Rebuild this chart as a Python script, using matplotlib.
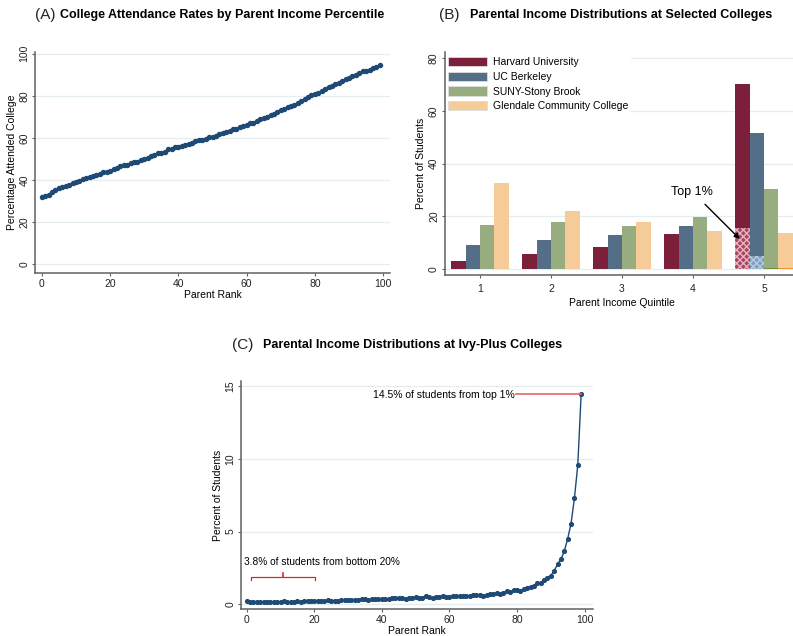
import matplotlib
matplotlib.use("Agg")
import matplotlib.pyplot as plt
from matplotlib.patches import Patch
import numpy as np

plt.rcParams['font.family'] = ['Liberation Sans', 'DejaVu Sans']

# ==== DATA ====
# (A) college attendance rate by parent rank 0..99
attend_rank = list(range(100))
attend_rate = [
    32.1, 32.3, 33.0, 34.4, 35.3, 36.0, 36.5, 37.3, 37.7, 38.4,
    39.2, 39.6, 40.3, 40.8, 41.4, 41.8, 42.4, 42.6, 43.6, 43.9,
    44.1, 45.0, 45.6, 46.4, 46.9, 47.3, 48.1, 48.6, 48.4, 49.4,
    49.8, 50.4, 51.2, 51.7, 52.6, 52.8, 53.4, 54.5, 54.6, 55.5,
    55.9, 56.0, 56.4, 57.3, 57.8, 58.4, 58.8, 58.9, 59.6, 60.2,
    60.5, 60.9, 61.7, 62.3, 62.9, 63.3, 64.0, 64.4, 65.1, 65.8,
    66.3, 66.9, 67.3, 68.1, 68.9, 69.4, 70.1, 70.8, 71.5, 72.4,
    73.1, 73.8, 74.5, 75.1, 75.8, 76.6, 77.4, 78.3, 79.4, 80.2,
    80.8, 81.4, 82.1, 83.1, 84.0, 84.7, 85.6, 86.3, 87.0, 88.0,
    88.6, 89.3, 90.0, 90.7, 91.6, 92.0, 92.4, 93.1, 93.8, 94.5,
]

# (B) share of students by parent income quintile
quintiles = [1, 2, 3, 4, 5]
colleges = ["Harvard University", "UC Berkeley", "SUNY-Stony Brook", "Glendale Community College"]
harvard = [3.2, 5.6, 8.3, 13.4, 70.3]
berkeley = [9.0, 10.9, 13.0, 16.4, 51.5]
stony_brook = [16.6, 17.7, 16.2, 19.9, 30.2]
glendale = [32.6, 22.1, 17.8, 14.5, 13.8]
top1 = [15.5, 5.0, 0.6, 0.6]  # top 1% share within quintile 5

# (C) Ivy-Plus share of students by parent rank 0..99
ivy_rank = list(range(100))
ivy_share = [
    0.25, 0.12, 0.15, 0.14, 0.16, 0.15, 0.14, 0.15, 0.16, 0.14,
    0.17, 0.19, 0.16, 0.18, 0.17, 0.19, 0.17, 0.20, 0.21, 0.20,
    0.23, 0.22, 0.20, 0.22, 0.27, 0.24, 0.20, 0.25, 0.28, 0.32,
    0.28, 0.30, 0.27, 0.30, 0.35, 0.33, 0.31, 0.34, 0.33, 0.35,
    0.36, 0.37, 0.38, 0.40, 0.42, 0.44, 0.41, 0.38, 0.40, 0.44,
    0.47, 0.44, 0.45, 0.58, 0.48, 0.44, 0.47, 0.50, 0.55, 0.50,
    0.53, 0.55, 0.56, 0.55, 0.57, 0.58, 0.57, 0.66, 0.60, 0.62,
    0.58, 0.64, 0.68, 0.72, 0.75, 0.70, 0.80, 0.88, 0.82, 0.97,
    0.99, 0.93, 1.05, 1.15, 1.20, 1.25, 1.45, 1.45, 1.70, 1.82,
    1.97, 2.30, 2.75, 3.10, 3.65, 4.50, 5.55, 7.30, 9.60, 14.50,
]

# ==== STYLE ====
W, H = 793, 636
navy = '#1f4a75'
grid_c = '#e4eef0'
spine_c = '#606060'
bar_colors = ['#7c1f3b', '#536e86', '#97ad80', '#f5cb98']
tick_fs = 7.5
label_fs = 7.5


def px_axes(fig, left, top, right, bottom):
    return fig.add_axes([left / W, 1 - bottom / H, (right - left) / W, (bottom - top) / H])


def stata_style(ax, xpad=1.5):
    for s in ['top', 'right']:
        ax.spines[s].set_visible(False)
    for s in ['left', 'bottom']:
        ax.spines[s].set_color(spine_c)
        ax.spines[s].set_linewidth(1.1)
    ax.tick_params(colors=spine_c, labelcolor='#222222', labelsize=tick_fs, length=2.5, width=0.8,
                   pad=1.5)
    ax.tick_params(axis='x', pad=xpad)
    ax.grid(axis='y', color=grid_c, linewidth=0.9)
    ax.set_axisbelow(True)
    for lbl in ax.get_yticklabels():
        lbl.set_rotation(90)
        lbl.set_va('center')


def panel_title(fig, x, y, letter, text, bold_x):
    fig.text(x / W, 1 - y / H, letter, fontsize=11, va='center', ha='left', color='#222222')
    fig.text(bold_x / W, 1 - y / H, text, fontsize=9, fontweight='bold', va='center', ha='left')


fig = plt.figure(figsize=(W / 100, H / 100), dpi=100)

# ==== (A) ====
ax = px_axes(fig, 35, 51.7, 390, 273.3)
ax.plot(attend_rank, attend_rate, color=navy, lw=1.0, marker='o', ms=2.9, mec=navy, mfc=navy)
ax.set_xlim(-2, 102)
ax.set_ylim(-4.4, 101)
ax.set_xticks([0, 20, 40, 60, 80, 100])
ax.set_yticks([0, 20, 40, 60, 80, 100])
ax.set_xlabel('Parent Rank', fontsize=label_fs, labelpad=1)
ax.set_ylabel('Percentage Attended College', fontsize=label_fs, labelpad=2)
stata_style(ax)
panel_title(fig, 35, 15, '(A)', 'College Attendance Rates by Parent Income Percentile', 60)

# ==== (B) ====
ax = px_axes(fig, 444.5, 51.7, 799.5, 275)
w = 0.204
series = [harvard, berkeley, stony_brook, glendale]
offsets = [-1.5, -0.5, 0.5, 1.5]
q = np.array(quintiles)
for vals, off, col, name in zip(series, offsets, bar_colors, colleges):
    ax.bar(q + off * w, vals, width=w, color=col, edgecolor='none', label=name)
# top 1% overlays inside quintile 5
ax.bar(5 + offsets[0] * w, top1[0], width=w, color='#a8465f', edgecolor='#e8b2bf',
       hatch='xxxxx', linewidth=0)
ax.bar(5 + offsets[1] * w, top1[1], width=w, color='#7f9fbd', edgecolor='#b6cbe0',
       hatch='xxxxx', linewidth=0)
ax.bar(5 + offsets[2] * w, top1[2], width=w, color='#6b8a48', edgecolor='none')
ax.bar(5 + offsets[3] * w, top1[3], width=w, color='#f0952c', edgecolor='none')
ax.set_xlim(0.5, 5.5)
ax.set_ylim(-2.2, 82.4)
ax.set_xticks(quintiles)
ax.set_yticks([0, 20, 40, 60, 80])
ax.set_xlabel('Parent Income Quintile', fontsize=label_fs, labelpad=2.5)
ax.set_ylabel('Percent of Students', fontsize=label_fs, labelpad=2)
stata_style(ax, xpad=4)
handles = [Patch(facecolor=c, edgecolor='#dddddd', linewidth=0.6) for c in bar_colors]
ax.legend(handles, colleges, loc='upper left', bbox_to_anchor=(0.005, 0.985), frameon=True,
          facecolor='white', edgecolor='none', framealpha=1, fontsize=7.5,
          handlelength=3.7, handleheight=1.0, labelspacing=0.42, borderpad=0.2,
          handletextpad=0.6, borderaxespad=0)
ax.annotate('Top 1%', xy=(4.66, 11.4), xytext=(3.99, 29.4), fontsize=9, ha='center', va='center',
            arrowprops=dict(arrowstyle='-|>', color='black', lw=1.0, mutation_scale=8,
                            shrinkA=4, shrinkB=0))
panel_title(fig, 439, 15, '(B)', 'Parental Income Distributions at Selected Colleges', 470)

# ==== (C) ====
ax = px_axes(fig, 241, 381, 593, 609)
ax.plot(ivy_rank, ivy_share, color=navy, lw=1.0, marker='o', ms=2.7, mec=navy, mfc=navy)
ax.set_xlim(-1.7, 102.5)
ax.set_ylim(-0.33, 15.37)
ax.set_xticks([0, 20, 40, 60, 80, 100])
ax.set_yticks([0, 5, 10, 15])
ax.set_xlabel('Parent Rank', fontsize=label_fs, labelpad=1)
ax.set_ylabel('Percent of Students', fontsize=label_fs, labelpad=2)
stata_style(ax)
red = '#e06a6a'
ax.plot([79.8, ivy_rank[-1]], [ivy_share[-1]] * 2, color=red, lw=1.2)
ax.text(79.3, ivy_share[-1] - 0.1, '14.5% of students from top 1%', fontsize=7.5,
        ha='right', va='center')
ax.plot([1.2, 1.2, 20.2, 20.2], [1.67, 1.9, 1.9, 1.67], color='#d42a2a', lw=0.9)
ax.plot([10.6, 10.6], [1.9, 2.15], color='#d42a2a', lw=1.2)
ax.text(-0.8, 2.9, '3.8% of students from bottom 20%', fontsize=7.3, ha='left', va='center')
panel_title(fig, 232, 345, '(C)', 'Parental Income Distributions at Ivy-Plus Colleges', 263)

fig.savefig('out.png', dpi=100)
